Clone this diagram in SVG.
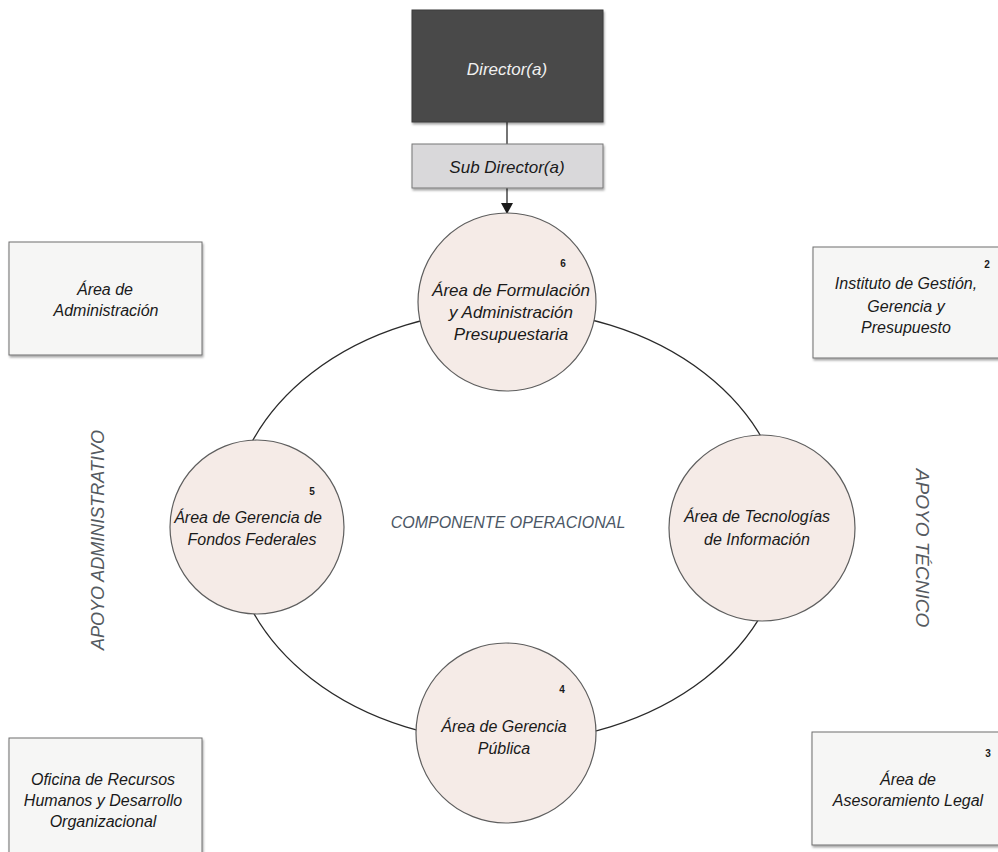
<svg xmlns="http://www.w3.org/2000/svg" width="998" height="852" viewBox="0 0 998 852">
<style>
.t{font-family:"Liberation Sans",Arial,sans-serif;font-style:italic;fill:#1a1a1a;text-anchor:middle}
.c16{font-size:16px}
.c17{font-size:17px}
.box{fill:#f6f6f5;stroke:#6e6e6e;stroke-width:1}
.circ{fill:#f5ebe7;stroke:#5e5e5e;stroke-width:1.2}
.num{font-family:"Liberation Sans",Arial,sans-serif;font-weight:bold;font-size:10px;fill:#1a1a1a;text-anchor:middle}
.side{font-family:"Liberation Sans",Arial,sans-serif;font-style:italic;fill:#555a60;text-anchor:middle}
.conn{fill:none;stroke:#2a2a2a;stroke-width:1.3}
</style>
<defs>
<filter id="sh" x="-5%" y="-5%" width="115%" height="120%">
<feDropShadow dx="1" dy="2" stdDeviation="1.2" flood-color="#000" flood-opacity="0.35"/>
</filter>
<marker id="arr" markerWidth="12" markerHeight="12" refX="10" refY="6" orient="auto" markerUnits="userSpaceOnUse">
<path d="M0,0 L11,6 L0,12 Z" fill="#1a1a1a"/>
</marker>
</defs>
<rect width="998" height="852" fill="#ffffff"/>

<g id="connectors">
<line class="conn" x1="507" y1="122" x2="507" y2="144"/>
<line class="conn" x1="507" y1="188" x2="507" y2="213" marker-end="url(#arr)"/>
<ellipse class="conn" cx="508" cy="526" rx="278" ry="216"/>
</g>

<g id="director">
<rect x="412" y="10" width="191" height="112" fill="#4a4a4a" stroke="#3a3a3a" filter="url(#sh)"/>
<text class="t c17" x="507" y="75" style="fill:#f0f0f0">Director(a)</text>
</g>

<g id="subdirector">
<rect x="412" y="144" width="191" height="44" fill="#d9d8da" stroke="#777" filter="url(#sh)"/>
<text class="t c17" x="507" y="173">Sub Director(a)</text>
</g>

<g id="area6">
<circle class="circ" cx="507" cy="302" r="89"/>
<text class="num" x="563" y="267">6</text>
<text class="t c17" x="511" y="296">Área de Formulación</text>
<text class="t c17" x="511" y="318">y Administración</text>
<text class="t c17" x="511" y="340">Presupuestaria</text>
</g>

<g id="area5">
<circle class="circ" cx="257" cy="527" r="87"/>
<text class="num" x="312" y="495">5</text>
<text class="t c16" x="248" y="523">Área de Gerencia de</text>
<text class="t c16" x="252" y="545">Fondos Federales</text>
</g>

<g id="areaTI">
<circle class="circ" cx="762" cy="528" r="93"/>
<text class="t c16" x="757" y="522">Área de Tecnologías</text>
<text class="t c16" x="757" y="545">de Información</text>
</g>

<g id="area4">
<circle class="circ" cx="506" cy="733" r="90"/>
<text class="num" x="562" y="693">4</text>
<text class="t c16" x="504" y="732">Área de Gerencia</text>
<text class="t c16" x="504" y="754">Pública</text>
</g>

<g id="componente">
<text x="508" y="528" style="font-family:'Liberation Sans',Arial,sans-serif;font-style:italic;font-size:16px;fill:#4c5766;text-anchor:middle">COMPONENTE OPERACIONAL</text>
</g>

<g id="admin">
<rect class="box" x="9" y="242" width="193" height="113" filter="url(#sh)"/>
<text class="t c16" x="105" y="295">Área de</text>
<text class="t c16" x="106" y="316">Administración</text>
</g>

<g id="instituto">
<rect class="box" x="813" y="247" width="195" height="111" filter="url(#sh)"/>
<text class="num" x="987" y="268">2</text>
<text class="t c16" x="906" y="289">Instituto de Gestión,</text>
<text class="t c16" x="906" y="312">Gerencia y</text>
<text class="t c16" x="906" y="333">Presupuesto</text>
</g>

<g id="rrhh">
<rect class="box" x="9" y="738" width="193" height="120" filter="url(#sh)"/>
<text class="t c16" x="103" y="785">Oficina de Recursos</text>
<text class="t c16" x="103" y="806">Humanos y Desarrollo</text>
<text class="t c16" x="103" y="827">Organizacional</text>
</g>

<g id="legal">
<rect class="box" x="812" y="732" width="196" height="113" filter="url(#sh)"/>
<text class="num" x="988" y="757">3</text>
<text class="t c16" x="908" y="785">Área de</text>
<text class="t c16" x="908" y="806">Asesoramiento Legal</text>
</g>

<g id="apoyo-admin">
<text class="side" font-size="18" transform="translate(104,540) rotate(-90)">APOYO ADMINISTRATIVO</text>
</g>

<g id="apoyo-tecnico">
<text class="side" font-size="19" transform="translate(916,548) rotate(90)">APOYO TÉCNICO</text>
</g>
</svg>
